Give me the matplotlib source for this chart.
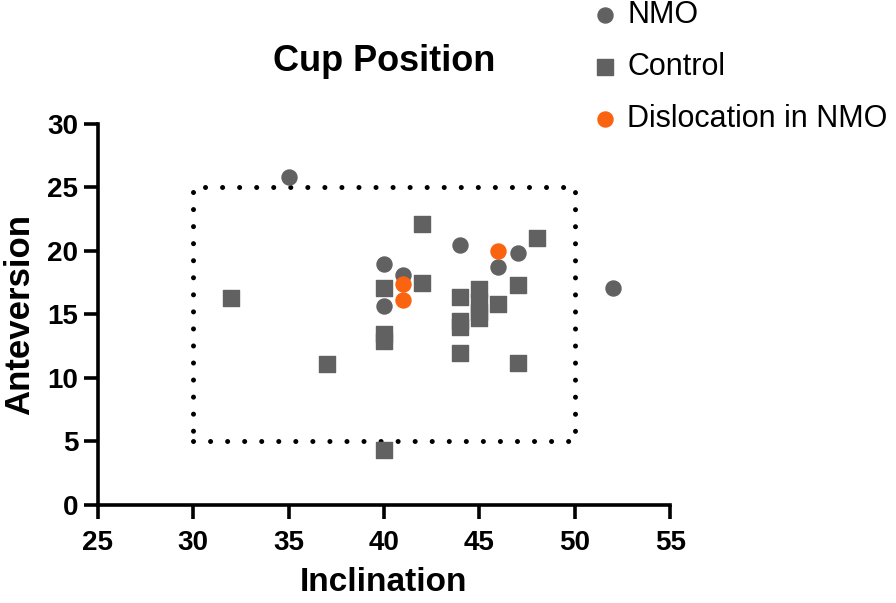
import matplotlib.pyplot as plt

plt.rcParams['font.family'] = ['Liberation Sans', 'DejaVu Sans']

# NMO (grey circles)
nmo_x = [35, 40, 40, 41, 44, 46, 47, 52]
nmo_y = [25.8, 19.0, 15.7, 18.1, 20.5, 18.7, 19.8, 17.1]

# Control (grey squares)
ctrl_x = [32, 37, 40, 40, 40, 40, 42, 42, 44, 44, 44, 44, 45, 45, 45, 45, 46, 47, 47, 48]
ctrl_y = [16.3, 11.1, 17.1, 13.5, 12.9, 4.3, 22.1, 17.5, 16.4, 14.5, 14.0, 12.0,
          17.0, 16.0, 15.2, 14.7, 15.8, 17.3, 11.2, 21.0]

# Dislocation in NMO (orange circles)
disl_x = [41, 41, 46]
disl_y = [17.4, 16.1, 20.0]

# safe zone box
box_x = [30, 50, 50, 30, 30]
box_y = [5, 5, 25, 25, 5]

grey = '#616161'
orange = '#FA6410'

fig = plt.figure(figsize=(8.96, 6.03), dpi=100)
ax = fig.add_axes([0.109, 0.1625, 0.639, 0.632])

ax.plot(box_x, box_y, color='black', linewidth=3.6,
        linestyle=(0, (0.01, 3.4)), dash_capstyle='round', zorder=1)

ax.scatter(nmo_x, nmo_y, s=117, marker='o', color=grey, label='NMO', zorder=3)
ax.scatter(ctrl_x, ctrl_y, s=125, marker='s', color=grey, label='Control', zorder=2)
ax.scatter(disl_x, disl_y, s=117, marker='o', color=orange, label='Dislocation in NMO', zorder=3)

ax.set_xlim(25, 55)
ax.set_ylim(0, 30)
ax.set_xticks([25, 30, 35, 40, 45, 50, 55])
ax.set_yticks([0, 5, 10, 15, 20, 25, 30])

for s in ['top', 'right']:
    ax.spines[s].set_visible(False)
for s in ['left', 'bottom']:
    ax.spines[s].set_linewidth(2.6)
ax.tick_params(width=2.6, length=10, labelsize=20)
ax.tick_params(axis='x', pad=8)
ax.tick_params(axis='y', pad=4)
for lab in ax.get_xticklabels() + ax.get_yticklabels():
    lab.set_fontweight('bold')

ax.set_xlabel('Inclination', fontsize=24, fontweight='bold', labelpad=8)
ax.set_ylabel('Anteversion', fontsize=25, fontweight='bold', labelpad=8)
ax.set_title('Cup Position', fontsize=26, fontweight='bold', pad=38)

fig.legend(loc='upper left', bbox_to_anchor=(0.627, 1.045), frameon=False,
           fontsize=22, handlelength=1.0, handletextpad=0.25, labelspacing=0.72)

plt.savefig('out.png', dpi=100)
